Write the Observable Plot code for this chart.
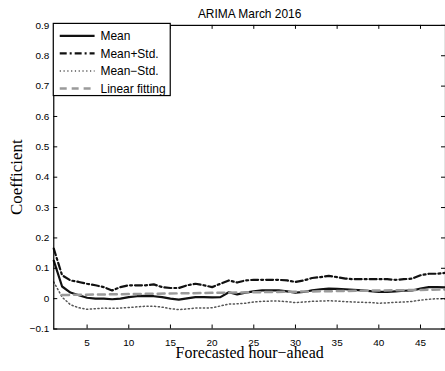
<!DOCTYPE html>
<html>
<head>
<meta charset="utf-8">
<script src="https://cdn.jsdelivr.net/npm/d3@7"></script>
<script src="https://cdn.jsdelivr.net/npm/@observablehq/plot@0.6"></script>
<style>
  html, body { margin: 0; padding: 0; background: #fff; overflow: hidden; }
  #chart { width: 445px; height: 371px; overflow: hidden; }
</style>
</head>
<body>
<div id="chart"></div>
<script>
const titleText = "ARIMA March 2016";
const xLabel = "Forecasted hour\u2212ahead";
const yLabel = "Coefficient";
const xTicks = [5, 10, 15, 20, 25, 30, 35, 40, 45];
const yTicks = [-0.1, 0, 0.1, 0.2, 0.3, 0.4, 0.5, 0.6, 0.7, 0.8, 0.9];
const hours = d3.range(1, 49);

const meanValues = [0.125, 0.04, 0.02, 0.011, 0.003, 0.0, 0.0, -0.002, 0.0, 0.005,
  0.008, 0.009, 0.008, 0.005, 0.0, -0.003, 0.001, 0.005, 0.005, 0.004,
  0.005, 0.021, 0.014, 0.02, 0.024, 0.027, 0.027, 0.027, 0.024, 0.02,
  0.022, 0.027, 0.031, 0.033, 0.032, 0.031, 0.029, 0.027, 0.025, 0.022,
  0.022, 0.024, 0.026, 0.027, 0.033, 0.038, 0.038, 0.037];
const meanPlusStd = [0.165, 0.077, 0.06, 0.055, 0.049, 0.044, 0.038, 0.027, 0.038, 0.044,
  0.044, 0.044, 0.047, 0.038, 0.035, 0.035, 0.044, 0.049, 0.044, 0.038,
  0.049, 0.06, 0.053, 0.06, 0.062, 0.062, 0.062, 0.062, 0.06, 0.055,
  0.06, 0.068, 0.071, 0.075, 0.071, 0.066, 0.064, 0.064, 0.064, 0.064,
  0.064, 0.062, 0.064, 0.066, 0.077, 0.082, 0.082, 0.085];
const meanMinusStd = [0.055, 0.005, -0.02, -0.03, -0.035, -0.033, -0.031, -0.032, -0.031, -0.029,
  -0.027, -0.025, -0.025, -0.028, -0.033, -0.036, -0.034, -0.031, -0.031, -0.03,
  -0.024, -0.018, -0.017, -0.015, -0.011, -0.009, -0.008, -0.008, -0.01, -0.013,
  -0.011, -0.009, -0.008, -0.007, -0.008, -0.01, -0.011, -0.012, -0.013, -0.015,
  -0.014, -0.012, -0.011, -0.009, -0.005, -0.002, 0.0, -0.001];
const fitHours = [2, 48];
const fitValues = [0.012, 0.03];

const seriesNames = ["Mean", "Mean+Std.", "Mean\u2212Std.", "Linear fitting"];

const styles = [
  {stroke: "#111", strokeWidth: 2.2, strokeDasharray: null},
  {stroke: "#111", strokeWidth: 2.2, strokeDasharray: "7,3,2,3"},
  {stroke: "#555", strokeWidth: 1.5, strokeDasharray: "1.2,2.6"},
  {stroke: "#9a9a9a", strokeWidth: 2.5, strokeDasharray: "7,5"}
];

const W = 447, H = 371, mL = 53.5, mR = 0, mT = 25, mB = 41;
const frameW = W - mL - mR, frameH = H - mT - mB;
const tickLen = 4;

const fmt = d => d === 0 ? "0" : d3.format(".1f")(d);

const series = [meanValues, meanPlusStd, meanMinusStd];

const chart = Plot.plot({
  width: W, height: H,
  marginLeft: mL, marginRight: mR, marginTop: mT, marginBottom: mB,
  style: {fontFamily: "Liberation Sans, Arial, sans-serif", fontSize: "10px", background: "#fff", color: "#000"},
  x: {domain: [1, 48], axis: null},
  y: {domain: [-0.1, 0.9], axis: null},
  marks: [
    Plot.axisX(xTicks, {tickSize: 0, tickPadding: 9.5, tickFormat: d => String(d), label: null, fontSize: 10, fill: "#000"}),
    Plot.axisY(yTicks, {tickSize: 0, tickPadding: 4.5, tickFormat: fmt, label: null, fontSize: 10, fill: "#000"}),
    ...series.map((vals, i) => Plot.line(hours, {x: d => d, y: (d, j) => vals[j], ...styles[i]})),
    Plot.line(fitHours, {x: d => d, y: (d, j) => fitValues[j], ...styles[3]}),
    Plot.tickX(xTicks, {x: d => d, insetTop: frameH - tickLen, stroke: "#000", strokeWidth: 1}),
    Plot.tickX(xTicks, {x: d => d, insetBottom: frameH - tickLen, stroke: "#000", strokeWidth: 1}),
    Plot.tickY(yTicks, {y: d => d, insetRight: frameW - tickLen, stroke: "#000", strokeWidth: 1}),
    Plot.tickY(yTicks, {y: d => d, insetLeft: frameW - tickLen, stroke: "#000", strokeWidth: 1}),
    Plot.frame({stroke: "#000", strokeWidth: 1.2}),
    Plot.text([titleText], {frameAnchor: "top", dy: -11, lineAnchor: "middle", textAnchor: "middle", fontSize: 12, fill: "#000", fontFamily: "Liberation Sans, Arial, sans-serif"}),
    Plot.text([xLabel], {frameAnchor: "bottom", dy: 24, lineAnchor: "middle", textAnchor: "middle", fontSize: 16, fill: "#000", fontFamily: "Liberation Serif, Times New Roman, serif"}),
    Plot.text([yLabel], {frameAnchor: "left", dx: -37, rotate: -90, lineAnchor: "middle", textAnchor: "middle", fontSize: 17, fill: "#000", fontFamily: "Liberation Serif, Times New Roman, serif"})
  ]
});

// Legend (MATLAB-style box, upper left)
const svg = d3.select(chart);
const lg = svg.append("g").attr("class", "legend").attr("text-anchor", "start");
const boxX = mL, boxY = mT - 1.5, boxW = 117.5, boxH = 72.5;
lg.append("rect").attr("x", boxX).attr("y", boxY).attr("width", boxW).attr("height", boxH)
  .attr("fill", "#fff").attr("stroke", "#000").attr("stroke-width", 1.2);
const rowY0 = boxY + 12.5, rowStep = 17.6;
seriesNames.forEach((name, i) => {
  const y = rowY0 + i * rowStep;
  const s = styles[i];
  lg.append("line").attr("x1", boxX + 6.5).attr("x2", boxX + 41.5).attr("y1", y).attr("y2", y)
    .attr("stroke", s.stroke).attr("stroke-width", s.strokeWidth)
    .attr("stroke-dasharray", s.strokeDasharray);
  lg.append("text").attr("x", boxX + 47.5).attr("y", y).attr("dy", "0.35em")
    .attr("text-anchor", "start")
    .attr("font-family", "Liberation Sans, Arial, sans-serif").attr("font-size", 12)
    .attr("fill", "#000").text(name);
});

document.getElementById("chart").appendChild(chart);
</script>
</body>
</html>
